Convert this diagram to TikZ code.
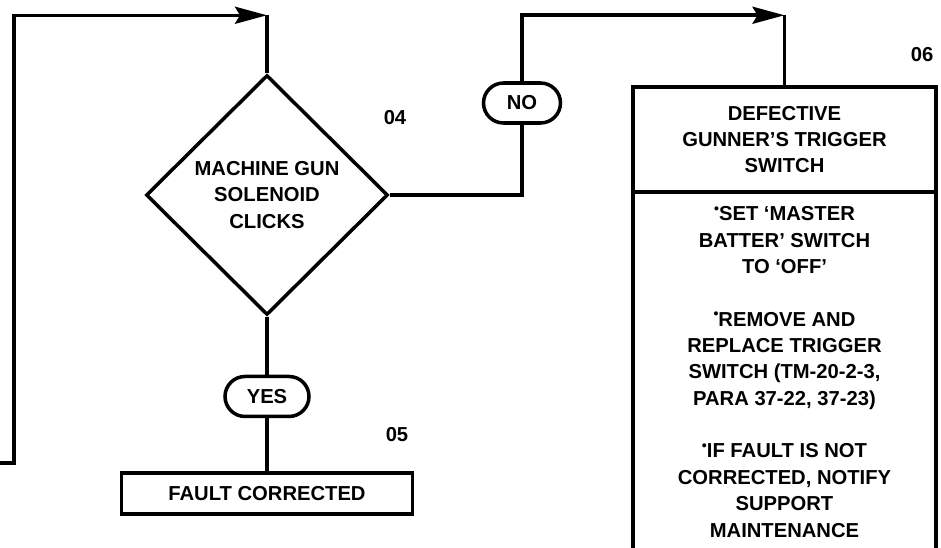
\documentclass[tikz,border=0pt]{standalone}
\usepackage{fontspec}
\setsansfont{Liberation Sans}
\usetikzlibrary{arrows.meta,positioning,shapes.geometric,shapes.misc}

\newcommand{\bul}{\raisebox{0.7ex}{\fontsize{8}{8}\selectfont\textbullet}}

\begin{document}
\begin{tikzpicture}[
    x=0.02cm, y=-0.02cm,
    font=\sffamily\bfseries\fontsize{11.5}{15}\selectfont,
    line width=2pt,
    decbox/.style={
        diamond, draw, aspect=1, inner sep=0pt,
        minimum width=4.84cm, minimum height=4.8cm, align=center,
    },
    termbox/.style={
        rounded rectangle, draw, inner sep=0pt,
        minimum width=#1, minimum height=0.8cm,
    },
    actbox/.style={
        rectangle, draw, align=center, inner sep=0pt,
        minimum width=6.06cm,
    },
    steplabel/.style={inner sep=0pt},
    flow/.style={-{Stealth[length=0.64cm,width=0.34cm,inset=0.1cm]}},
]
\useasboundingbox (0,0) rectangle (941,548);
\clip (0,0) rectangle (941,548);

% ------------------------------------------------------------
% decision 04 and its YES branch
% ------------------------------------------------------------
\node[decbox] (dec) at (267,195) {MACHINE GUN\\SOLENOID\\CLICKS};
\node[steplabel] (n04) at (395,118) {04};

\node[termbox=1.68cm, below=1.16cm of dec] (yes) {YES};

\node[actbox, minimum width=5.82cm, minimum height=0.82cm,
    below=1.06cm of yes] (fixed) {FAULT CORRECTED};
\node[steplabel] (n05) at (397,435) {05};

% ------------------------------------------------------------
% NO branch, step 06
% ------------------------------------------------------------
\node[termbox=1.54cm] (no) at (522,103) {NO};

\node[actbox, minimum height=2.1cm] (defect) at (784.5,139.5) {
    DEFECTIVE\\GUNNER’S TRIGGER\\SWITCH
};
\node[steplabel] (n06) at (922,55) {06};

\node[actbox, minimum height=7.2cm, below=-2pt of defect] (todo) {
    \bul SET ‘MASTER\\BATTER’ SWITCH\\TO ‘OFF’\\[15pt]
    \bul REMOVE AND\\REPLACE TRIGGER\\SWITCH (TM-20-2-3,\\PARA 37-22, 37-23)\\[15pt]
    \bul IF FAULT IS NOT\\CORRECTED, NOTIFY\\SUPPORT\\MAINTENANCE
};

% ------------------------------------------------------------
% connectors
% ------------------------------------------------------------
\coordinate (loopin) at (0,463);
\path (dec.north) ++(0,-58) coordinate (dectop);
\path (defect.north) ++(0,-70) coordinate (defecttop);

\draw[flow] (loopin) -- ++(14,0) |- (dectop);
\draw (dectop) -- (dec.north);
\draw (dec.south) -- (yes.north);
\draw (yes.south) -- (fixed.north);

\draw (dec.east) -| (no.south);
\draw[flow] (no.north) |- (defecttop);
\draw (defecttop) -- (defect.north);

\end{tikzpicture}
\end{document}
